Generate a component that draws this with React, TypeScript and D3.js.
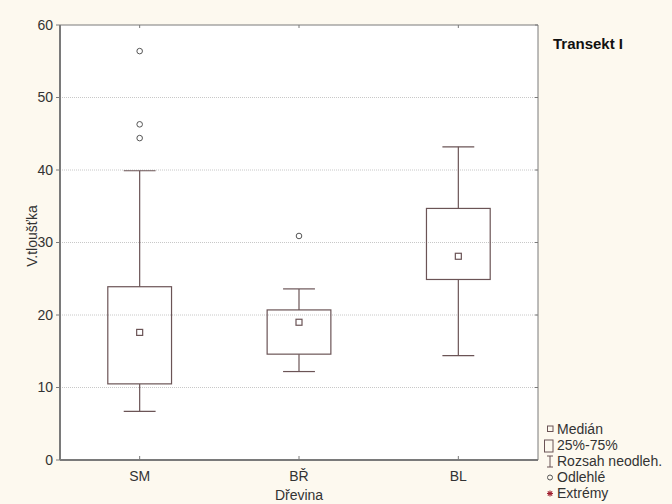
import React, { useEffect, useRef } from 'react';
import * as d3 from 'd3';

// values
const categories = ['SM', 'BŘ', 'BL'];
const medians = [17.6, 19.0, 28.1];
const q1 = [10.5, 14.6, 24.9];
const q3 = [23.9, 20.7, 34.7];
const whiskerLow = [6.7, 12.2, 14.4];
const whiskerHigh = [39.9, 23.6, 43.2];
const outliers = [[56.4, 46.3, 44.4], [30.9], []];
const yTicks = [0, 10, 20, 30, 40, 50, 60];
const legendItems = ['Medián', '25%-75%', 'Rozsah neodleh.', 'Odlehlé', 'Extrémy'];

const W = 672, H = 504;
const margin = { top: 25, right: 134, bottom: 44, left: 60 };
const stroke = '#6b5456';
const font = "'Liberation Sans', Arial, sans-serif";

const App = () => {
  const ref = useRef<SVGSVGElement>(null);

  useEffect(() => {
    const svg = d3.select(ref.current);
    svg.selectAll('*').remove();

    const x = d3.scaleBand().domain(categories).range([margin.left, W - margin.right]);
    const y = d3.scaleLinear().domain([0, 60]).range([H - margin.bottom, margin.top]);
    const x0 = margin.left, x1 = W - margin.right;
    const y0 = y(0), y1 = y(60);

    svg.append('rect').attr('width', W).attr('height', H).attr('fill', '#fdf9ef');
    svg.append('rect').attr('x', x0).attr('y', y1).attr('width', x1 - x0).attr('height', y0 - y1).attr('fill', '#fff');

    // grid
    svg.append('g').selectAll('line').data(yTicks.filter(t => t > 0 && t < 60)).enter().append('line')
      .attr('x1', x0).attr('x2', x1).attr('y1', d => y(d)).attr('y2', d => y(d))
      .attr('stroke', '#c8c8c8').attr('stroke-dasharray', '1,1');

    // boxes
    const bw = x.bandwidth() * 0.4;
    const cw = bw / 2;
    const g = svg.append('g').attr('stroke', stroke).attr('fill', 'none').attr('stroke-width', 1.2);
    categories.forEach((c, i) => {
      const cx = x(c)! + x.bandwidth() / 2;
      g.append('line').attr('x1', cx).attr('x2', cx).attr('y1', y(q3[i])).attr('y2', y(whiskerHigh[i]));
      g.append('line').attr('x1', cx).attr('x2', cx).attr('y1', y(q1[i])).attr('y2', y(whiskerLow[i]));
      g.append('line').attr('x1', cx - cw / 2).attr('x2', cx + cw / 2).attr('y1', y(whiskerHigh[i])).attr('y2', y(whiskerHigh[i]));
      g.append('line').attr('x1', cx - cw / 2).attr('x2', cx + cw / 2).attr('y1', y(whiskerLow[i])).attr('y2', y(whiskerLow[i]));
      g.append('rect').attr('x', cx - bw / 2).attr('width', bw).attr('y', y(q3[i])).attr('height', y(q1[i]) - y(q3[i]));
      g.append('rect').attr('x', cx - 3).attr('y', y(medians[i]) - 3).attr('width', 6).attr('height', 6);
      outliers[i].forEach(v => {
        g.append('circle').attr('cx', cx).attr('cy', y(v)).attr('r', 2.8).attr('stroke', '#555').attr('stroke-width', 1);
      });
    });

    // axes frame
    const ax = svg.append('g').attr('stroke', '#7a7a7a');
    ax.append('line').attr('x1', x0).attr('x2', x0).attr('y1', y1).attr('y2', y0).attr('stroke-width', 2);
    ax.append('line').attr('x1', x0).attr('x2', x1).attr('y1', y0).attr('y2', y0).attr('stroke-width', 2);
    ax.append('line').attr('x1', x0).attr('x2', x1).attr('y1', y1).attr('y2', y1).attr('stroke-width', 1);
    ax.append('line').attr('x1', x1).attr('x2', x1).attr('y1', y1).attr('y2', y0).attr('stroke-width', 1);
    yTicks.forEach(t => {
      ax.append('line').attr('x1', x0 - 4).attr('x2', x0).attr('y1', y(t)).attr('y2', y(t));
      ax.append('line').attr('x1', x1 - 3).attr('x2', x1).attr('y1', y(t)).attr('y2', y(t));
    });
    categories.forEach(c => {
      const cx = x(c)! + x.bandwidth() / 2;
      ax.append('line').attr('x1', cx).attr('x2', cx).attr('y1', y0).attr('y2', y0 - 4);
      ax.append('line').attr('x1', cx).attr('x2', cx).attr('y1', y1).attr('y2', y1 + 3);
    });

    const txt = svg.append('g').attr('font-family', font).attr('font-size', 14).attr('fill', '#333');
    yTicks.forEach(t => {
      txt.append('text').attr('x', x0 - 7).attr('y', y(t)).attr('dy', '0.35em').attr('text-anchor', 'end').text(t);
    });
    categories.forEach(c => {
      txt.append('text').attr('x', x(c)! + x.bandwidth() / 2).attr('y', y0 + 21).attr('text-anchor', 'middle').text(c);
    });
    txt.append('text').attr('x', x(categories[1])! + x.bandwidth() / 2).attr('y', H - 4).attr('text-anchor', 'middle').text('Dřevina');
    txt.append('text').attr('transform', `translate(37,236) rotate(-90)`).attr('text-anchor', 'middle').text('V.tloušťka');

    svg.append('text').attr('x', 553).attr('y', 49).attr('font-family', font).attr('font-size', 15)
      .attr('font-weight', 'bold').attr('fill', '#111').text('Transekt I');

    // legend
    const lg = svg.append('g').attr('font-family', font).attr('font-size', 14).attr('fill', '#333');
    const ly = (i: number) => 434 + i * 16;
    legendItems.forEach((d, i) => {
      lg.append('text').attr('x', 557).attr('y', ly(i)).text(d);
    });
    const ls = svg.append('g').attr('stroke', stroke).attr('fill', 'none');
    ls.append('rect').attr('x', 547.5).attr('y', ly(0) - 8).attr('width', 5.5).attr('height', 5.5);
    ls.append('rect').attr('x', 544.5).attr('y', ly(1) - 10).attr('width', 8.5).attr('height', 12);
    ls.append('line').attr('x1', 550).attr('x2', 550).attr('y1', ly(2) - 10).attr('y2', ly(2) + 1);
    ls.append('line').attr('x1', 547).attr('x2', 553).attr('y1', ly(2) - 10).attr('y2', ly(2) - 10);
    ls.append('line').attr('x1', 547).attr('x2', 553).attr('y1', ly(2) + 1).attr('y2', ly(2) + 1);
    ls.append('circle').attr('cx', 550).attr('cy', ly(3) - 4.5).attr('r', 2.5).attr('stroke', '#555');
    const sx = 550, sy = ly(4) - 4.5;
    const star = svg.append('g').attr('stroke', '#a02030').attr('stroke-width', 1.1);
    star.append('line').attr('x1', sx - 3).attr('x2', sx + 3).attr('y1', sy).attr('y2', sy);
    star.append('line').attr('x1', sx).attr('x2', sx).attr('y1', sy - 3).attr('y2', sy + 3);
    star.append('line').attr('x1', sx - 2.2).attr('x2', sx + 2.2).attr('y1', sy - 2.2).attr('y2', sy + 2.2);
    star.append('line').attr('x1', sx - 2.2).attr('x2', sx + 2.2).attr('y1', sy + 2.2).attr('y2', sy - 2.2);
  }, []);

  return (
    <svg ref={ref} width={W} height={H} style={{ position: 'absolute', left: 0, top: 0 }} />
  );
};

export default App;
